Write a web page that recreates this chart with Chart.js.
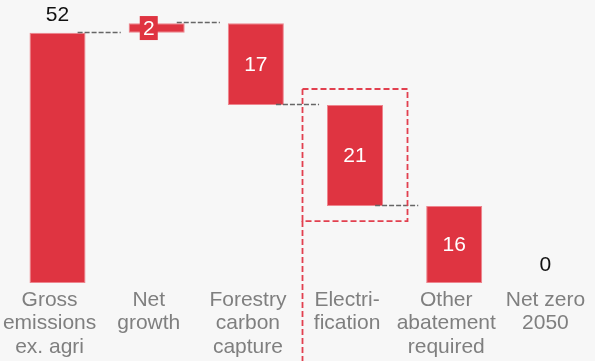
<!DOCTYPE html>
<html>
<head>
<meta charset="utf-8">
<script src="https://cdn.jsdelivr.net/npm/chart.js@4.4.1/dist/chart.umd.min.js"></script>
<style>
  html, body { margin: 0; padding: 0; background: #f7f7f7; }
  #wrap { width: 595px; height: 361px; position: relative; }
</style>
</head>
<body>
<div id="wrap"><canvas id="chart"></canvas></div>
<script>
// Emissions bridge: starting total, steps, end total
const categories = [
    ['Gross', 'emissions', 'ex. agri'],
    ['Net', 'growth'],
    ['Forestry', 'carbon', 'capture'],
    ['Electri-', 'fication'],
    ['Other', 'abatement', 'required'],
    ['Net zero', '2050']
];
const steps = [52, 2, -17, -21, -16, 0];
const isTotal = [true, false, false, false, false, true];
const highlightIndex = 3;

const RED = '#df3441';
const FONT = "'Liberation Sans', Arial, sans-serif";
const BAR_SHIFT = 0.08;   // bars sit a little right of their label
const BAR_PCT = 0.565;

// floating [from, to] range for every column
let level = 0;
const ranges = steps.map((v, i) => {
    if (isTotal[i]) {
        level = v;
        return [0, v];
    }
    const r = [level, level + v];
    level += v;
    return r;
});

const barData = ranges
    .map((r, i) => ({ x: i + BAR_SHIFT, y: r, idx: i }))
    .filter(d => d.y[0] !== d.y[1]);

const bridgePlugin = {
    id: 'bridge',
    afterDatasetsDraw(chart) {
        const { ctx, scales: { x, y } } = chart;
        const meta = chart.getDatasetMeta(0);
        ctx.save();

        // dashed connectors between columns
        ctx.strokeStyle = '#666';
        ctx.lineWidth = 1.4;
        ctx.setLineDash([5, 2]);
        for (let i = 0; i < ranges.length - 1; i++) {
            if (isTotal[i + 1]) continue;
            const yy = Math.round(y.getPixelForValue(ranges[i][1])) - 0.5;
            ctx.beginPath();
            ctx.moveTo(x.getPixelForValue(i + BAR_PCT / 2), yy);
            ctx.lineTo(x.getPixelForValue(i + 1 - BAR_PCT / 2), yy);
            ctx.stroke();
        }
        ctx.setLineDash([]);

        // value labels
        ctx.font = '21px ' + FONT;
        ctx.textAlign = 'center';
        ctx.textBaseline = 'middle';
        ranges.forEach((r, i) => {
            const text = String(Math.abs(steps[i]));
            const top = y.getPixelForValue(Math.max(r[0], r[1]));
            const bottom = y.getPixelForValue(Math.min(r[0], r[1]));
            const el = meta.data[barData.findIndex(d => d.idx === i)];
            if (isTotal[i]) {
                ctx.fillStyle = '#111';
                ctx.fillText(text, el ? el.x : x.getPixelForValue(i), top - 17.5);
            } else if (bottom - top < 24) {
                const cx = x.getPixelForValue(i);
                const cy = (top + bottom) / 2;
                ctx.fillStyle = RED;
                ctx.fillRect(cx - 9, cy - 12, 18, 24);
                ctx.fillStyle = '#fff';
                ctx.fillText(text, cx, cy + 1);
            } else {
                ctx.fillStyle = '#fff';
                ctx.fillText(text, el.x, (top + bottom) / 2 + 1);
            }
        });
        ctx.restore();
    },
    afterDraw(chart) {
        // dashed frame around the highlighted step
        const { ctx, scales: { y } } = chart;
        const meta = chart.getDatasetMeta(0);
        const el = meta.data[barData.findIndex(d => d.idx === highlightIndex)];
        const r = ranges[highlightIndex];
        const left = Math.round(el.x - 53) + 0.5;
        const right = Math.round(el.x + 52) + 0.5;
        const top = y.getPixelForValue(Math.max(r[0], r[1])) - 16;
        const bottom = y.getPixelForValue(Math.min(r[0], r[1])) + 15;
        ctx.save();
        ctx.strokeStyle = '#e2404f';
        ctx.lineWidth = 1.8;
        ctx.setLineDash([6, 3]);
        ctx.strokeRect(left, top, right - left, bottom - top);
        ctx.beginPath();
        ctx.moveTo(left, bottom);
        ctx.lineTo(left, chart.height);
        ctx.stroke();
        ctx.restore();
    }
};

new Chart(document.getElementById('chart'), {
    type: 'bar',
    data: {
        datasets: [{
            data: barData,
            backgroundColor: RED,
            borderColor: 'rgba(236, 120, 130, 0.9)',
            borderWidth: 1,
            borderSkipped: false,
            barPercentage: BAR_PCT,
            categoryPercentage: 1
        }]
    },
    options: {
        responsive: true,
        maintainAspectRatio: false,
        animation: false,
        layout: { padding: { top: 4, left: 0, right: 0, bottom: 0 } },
        plugins: {
            legend: { display: false },
            tooltip: { enabled: false }
        },
        scales: {
            x: {
                type: 'linear',
                bounds: 'data',
                offset: false,
                min: -0.5,
                max: categories.length - 0.5,
                afterBuildTicks: s => { s.ticks = categories.map((_, i) => ({ value: i })); },
                afterFit: s => {
                    // labels fit inside their columns, so no side padding
                    s.paddingLeft = 0;
                    s.paddingRight = 0;
                    s.height = 78;
                },
                grid: { display: false, drawTicks: false, offset: false },
                border: { display: false },
                ticks: {
                    autoSkip: false,
                    maxRotation: 0,
                    padding: 6,
                    color: '#7f7f7f',
                    font: { family: FONT, size: 21, lineHeight: 1.1 },
                    callback: v => categories[v]
                }
            },
            y: {
                display: false,
                min: 0,
                max: 58
            }
        }
    },
    plugins: [bridgePlugin]
});
</script>
</body>
</html>
